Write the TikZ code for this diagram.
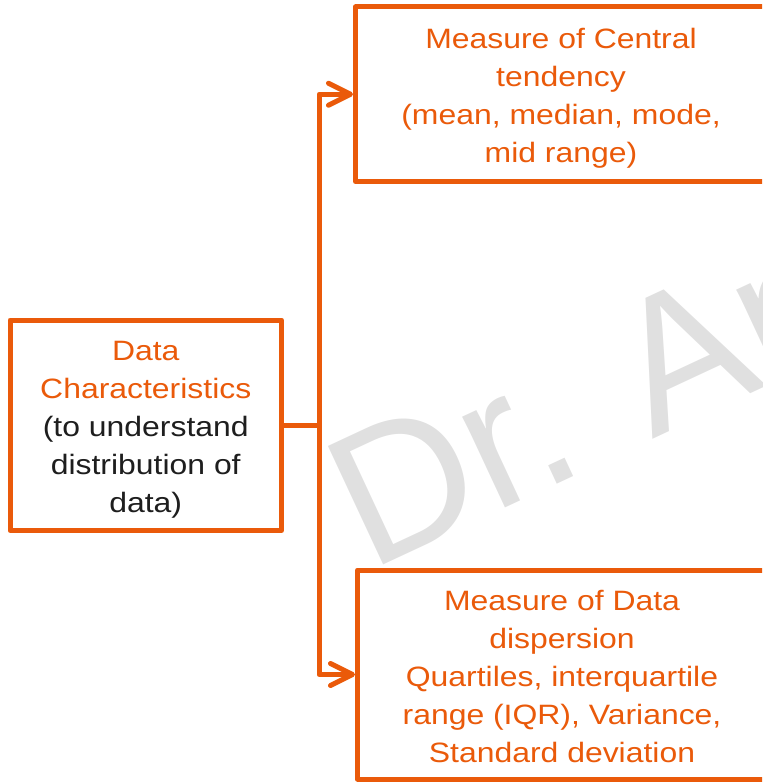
\documentclass[tikz,border=0pt]{standalone}
\usepackage{fontspec}
\setmainfont{Liberation Sans}
\usetikzlibrary{arrows.meta}
\definecolor{orng}{RGB}{234,90,10}
\definecolor{wm}{RGB}{224,224,224}
\definecolor{txt}{RGB}{30,30,30}
\tikzset{
  databox/.style={rectangle, draw=orng, line width=5pt, fill=white, line join=round, inner sep=0pt},
  link/.style={draw=orng, line width=5pt, line join=round},
  arrowlink/.style={link, -{Straight Barb[length=22pt, width=22pt, line cap=round, line join=round]}},
  watermark/.style={anchor=base west, rotate=25, inner sep=0pt, text=wm, font=\fontsize{190}{190}\selectfont}
}
\newcommand{\boxtext}[1]{\raisebox{-4pt}[\height][\depth]{\scalebox{1.14}[1]{\fontsize{28}{38}\selectfont\begin{tabular}{@{}c@{}}#1\end{tabular}}}}
\begin{document}
\begin{tikzpicture}[x=1pt,y=-1pt]
\useasboundingbox (0,0) rectangle (762,783);
\clip (0,0) rectangle (762,783);
\node[watermark] (wmk) at (369,572) {Dr. An};

\node[databox, minimum width=271.5pt, minimum height=210.5pt] (dc) at (145.75,425.25)
  {\boxtext{\textcolor{orng}{Data}\\ \textcolor{orng}{Characteristics}\\ \textcolor{txt}{(to understand}\\ \textcolor{txt}{distribution of}\\ \textcolor{txt}{data)}}};
\node[databox, minimum width=411pt, minimum height=174.5pt] (ct) at (561,94.25)
  {\boxtext{\textcolor{orng}{Measure of Central}\\ \textcolor{orng}{tendency}\\ \textcolor{orng}{(mean, median, mode,}\\ \textcolor{orng}{mid range)}}};
\node[databox, minimum width=409pt, minimum height=209pt] (dd) at (562,674.5)
  {\boxtext{\textcolor{orng}{Measure of Data}\\ \textcolor{orng}{dispersion}\\ \textcolor{orng}{Quartiles, interquartile}\\ \textcolor{orng}{range (IQR), Variance,}\\ \textcolor{orng}{Standard deviation}}};

\coordinate (j) at (319,425.25);
\draw[link] (dc.east) -- (j);
\draw[arrowlink] (j) |- (ct.west);
\draw[arrowlink] (j) |- (dd.west);
\end{tikzpicture}
\end{document}
